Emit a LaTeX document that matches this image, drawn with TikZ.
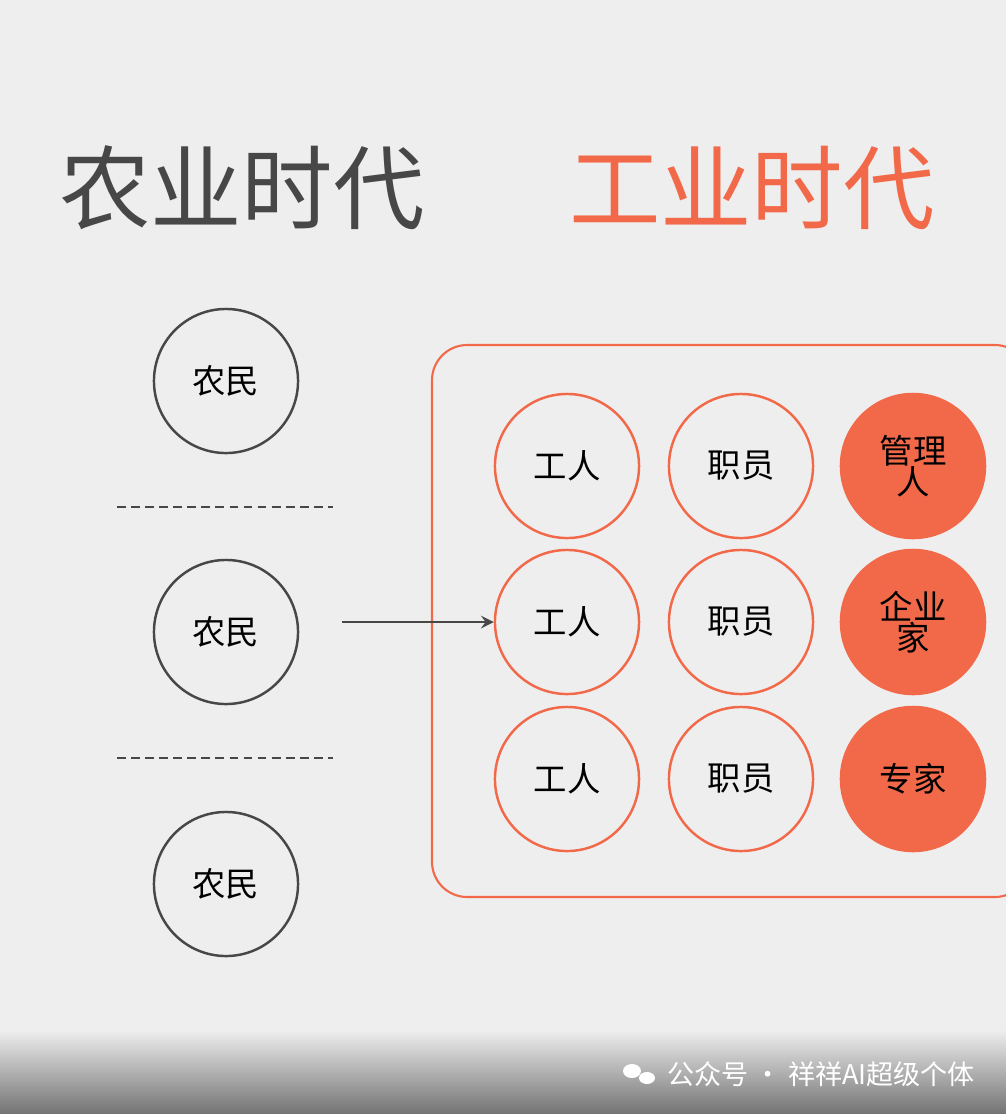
\documentclass[tikz,border=0pt]{standalone}
\usepackage{fontspec}
\setmainfont{Noto Sans CJK SC}
\definecolor{bg}{HTML}{EFEEEF}
\definecolor{org}{HTML}{F2694A}
\definecolor{dk}{HTML}{474747}
\tikzset{
 farmer/.style={circle,draw=dk,line width=0.7pt,minimum size=1.44cm,inner sep=0pt,font=\fontsize{9.5}{11}\selectfont,text=black},
 ring/.style={circle,draw=org,line width=0.7pt,minimum size=1.44cm,inner sep=0pt,font=\fontsize{9.5}{11}\selectfont,text=black,align=center},
 full/.style={ring,fill=org},
 sep/.style={dk,line width=0.8pt,dash pattern=on 2.5pt off 1.5pt},
}
\begin{document}
\begin{tikzpicture}[x=0.01cm,y=-0.01cm]
\fill[bg] (0,0) rectangle (1006,1114);
\useasboundingbox (0,0) rectangle (1006,1114);
\node[dk,font=\fontsize{26}{30}\selectfont] (t1) at (242,188) {农业时代};
\node[org,font=\fontsize{26}{30}\selectfont] (t2) at (752,188) {工业时代};
\node[farmer] (f1) at (226,381) {农民};
\node[farmer] (f2) at (226,632) {农民};
\node[farmer] (f3) at (226,884) {农民};
\coordinate (d1a) at (117,507); \coordinate (d1b) at (333,507);
\coordinate (d2a) at (117,758); \coordinate (d2b) at (333,758);
\draw[sep] (d1a) -- (d1b);
\draw[sep] (d2a) -- (d2b);
\draw[org,line width=0.6pt,rounded corners=10pt] (432,345) rectangle (1030,897);
\node[ring] (w1) at (567,466) {工人};
\node[ring] (w2) at (567,622) {工人};
\node[ring] (w3) at (567,779) {工人};
\node[ring] (c1) at (741,466) {职员};
\node[ring] (c2) at (741,622) {职员};
\node[ring] (c3) at (741,779) {职员};
\node[full] (m1) at (913,466) {管理\\[-2pt]人};
\node[full] (m2) at (913,622) {企业\\[-2pt]家};
\node[full] (m3) at (913,779) {专家};
\coordinate (as) at (342,622);
\draw[dk,line width=0.6pt,-stealth] (as) -- (w2.west);
\shade[top color=bg,bottom color=black!55] (0,1030) rectangle (1006,1114);
\node[white,font=\fontsize{7.7}{10}\selectfont,anchor=west,inner sep=0pt] (wm) at (667,1074) {公众号 · 祥祥AI超级个体};
\fill[white] (632,1071) ellipse (9 and 7);
\fill[white] (647,1078) ellipse (8 and 6);
\end{tikzpicture}
\end{document}
